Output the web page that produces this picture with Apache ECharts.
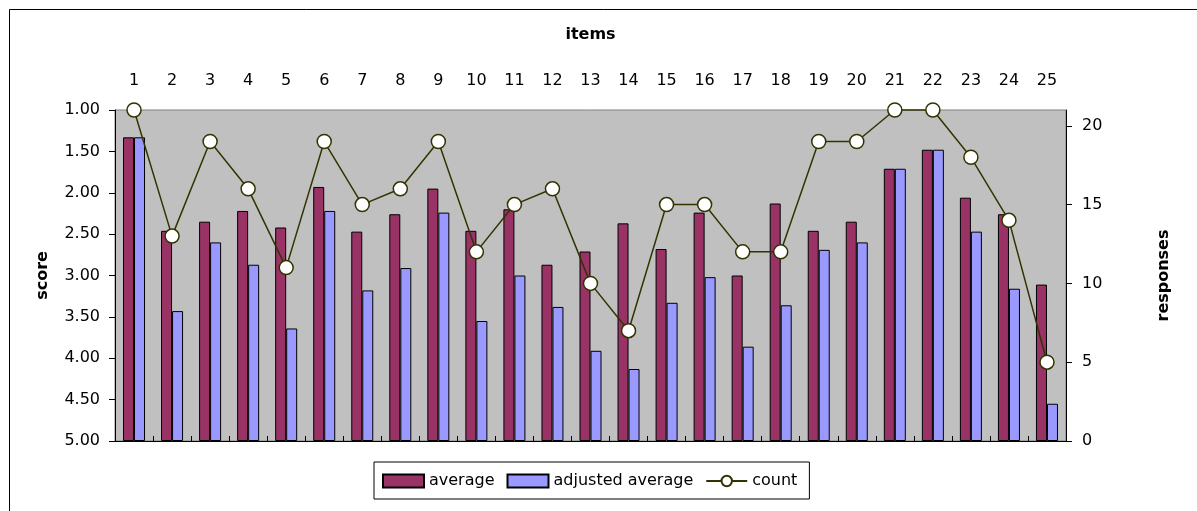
<!DOCTYPE html>
<html>
<head>
<meta charset="utf-8">
<script src="https://cdn.jsdelivr.net/npm/echarts@6/dist/echarts.min.js"></script>
<style>
html,body{margin:0;padding:0;background:#fff;}
#c{width:1197px;height:511px;}
</style>
</head>
<body>
<div id="c"></div>
<script>
var items = ['1','2','3','4','5','6','7','8','9','10','11','12','13','14','15','16','17','18','19','20','21','22','23','24','25'];
var average = [1.33,2.46,2.35,2.22,2.42,1.93,2.47,2.26,1.95,2.46,2.20,2.87,2.71,2.37,2.68,2.24,3.00,2.13,2.46,2.35,1.71,1.48,2.06,2.26,3.11];
var adjustedAverage = [1.33,3.43,2.60,2.87,3.64,2.22,3.18,2.91,2.24,3.55,3.00,3.38,3.91,4.13,3.33,3.02,3.86,3.36,2.69,2.60,1.71,1.48,2.47,3.16,4.55];
var count = [21,13,19,16,11,19,15,16,19,12,15,16,10,7,15,15,12,12,19,19,21,21,18,14,5];
var scoreWorst = 5; // score axis runs from 1.00 (top) to 5.00 (bottom); bars rise from 5.00

var chart = echarts.init(document.getElementById('c'), null, {renderer:'canvas'});
var FONT = 'DejaVu Sans, Verdana, sans-serif';
var FS = 16;
var option = {
  backgroundColor: '#ffffff',
  animation: false,
  textStyle: {fontFamily: FONT, color: '#000'},
  graphic: [{
    type: 'rect', left: 7, top: 7,
    shape: {width: 1300, height: 600},
    style: {fill: 'none', stroke: '#000', lineWidth: 1}
  }],
  grid: {
    left: 115, right: 131, top: 110, bottom: 70,
    show: true, backgroundColor: '#c0c0c0', borderColor: '#808080', borderWidth: 1
  },
  legend: {
    left: 374, top: 462,
    orient: 'horizontal',
    borderColor: '#000', borderWidth: 1,
    padding: [11, 12, 10, 8],
    itemGap: 12,
    itemWidth: 41, itemHeight: 13,
    textStyle: {fontSize: FS, fontFamily: FONT, color: '#000'},
    data: [
      {name: 'average', icon: 'rect'},
      {name: 'adjusted average', icon: 'rect'},
      {name: 'count'}
    ]
  },
  xAxis: {
    type: 'category',
    position: 'top',
    data: items,
    name: 'items',
    nameLocation: 'middle',
    nameGap: 67,
    nameTextStyle: {fontSize: FS, fontWeight: 'bold', fontFamily: FONT, color: '#000'},
    axisLine: {show: true, lineStyle: {color: '#000', width: 1}},
    axisTick: {show: true, length: 5, lineStyle: {color: '#000'}},
    axisLabel: {fontSize: FS, margin: 21, color: '#000', fontFamily: FONT},
    splitLine: {show: false}
  },
  yAxis: [{
    type: 'value',
    position: 'left',
    min: 0, max: 4, interval: 0.5,
    name: 'score',
    nameLocation: 'middle',
    nameGap: 64,
    nameRotate: 90,
    nameTextStyle: {fontSize: FS, fontWeight: 'bold', fontFamily: FONT, color: '#000'},
    axisLine: {show: true, lineStyle: {color: '#000'}},
    axisTick: {show: true, length: 6, lineStyle: {color: '#000'}},
    axisLabel: {
      fontSize: FS, margin: 15, color: '#000', fontFamily: FONT,
      formatter: function (v) { return (scoreWorst - v).toFixed(2); }
    },
    splitLine: {show: false}
  }, {
    type: 'value',
    position: 'right',
    min: 0, max: 21, interval: 5,
    name: 'responses',
    nameLocation: 'middle',
    nameGap: 90,
    nameRotate: 90,
    nameTextStyle: {fontSize: FS, fontWeight: 'bold', fontFamily: FONT, color: '#000'},
    axisLine: {show: true, lineStyle: {color: '#000'}},
    axisTick: {show: true, length: 6, lineStyle: {color: '#000'}},
    axisLabel: {
      fontSize: FS, margin: 16, color: '#000', fontFamily: FONT,
      showMaxLabel: false,
      formatter: function (v) { return v === 21 ? '' : String(v); }
    },
    splitLine: {show: false}
  }],
  series: [{
    name: 'average',
    type: 'bar',
    yAxisIndex: 0,
    barWidth: 11,
    barGap: '0%',
    itemStyle: {color: '#993366', borderColor: '#000', borderWidth: 1},
    data: average.map(function (v) { return scoreWorst - v; })
  }, {
    name: 'adjusted average',
    type: 'bar',
    yAxisIndex: 0,
    barWidth: 11,
    barGap: '0%',
    itemStyle: {color: '#9999ff', borderColor: '#000', borderWidth: 1},
    data: adjustedAverage.map(function (v) { return scoreWorst - v; })
  }, {
    name: 'count',
    type: 'line',
    yAxisIndex: 1,
    clip: false,
    symbol: 'circle',
    symbolSize: 14,
    lineStyle: {color: '#333300', width: 1.5},
    itemStyle: {color: '#ffffff', borderColor: '#333300', borderWidth: 1.5},
    data: count,
    z: 5
  }]
};
chart.setOption(option);
</script>
</body>
</html>
